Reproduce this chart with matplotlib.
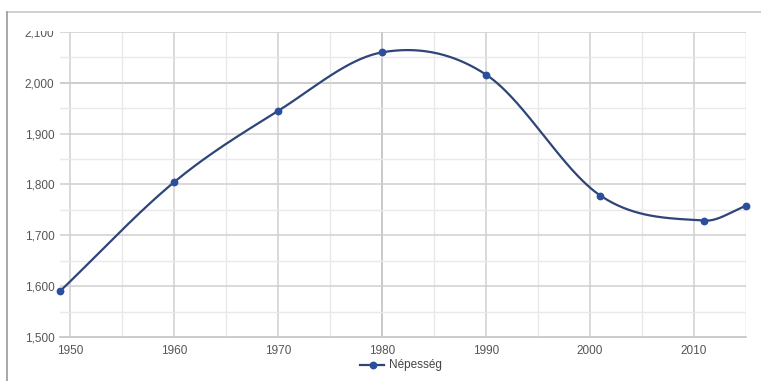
import numpy as np
import matplotlib
matplotlib.use("Agg")
import matplotlib.pyplot as plt
from matplotlib.lines import Line2D
from matplotlib.patches import Rectangle

years = [1949, 1960, 1970, 1980, 1990, 2001, 2011, 2015]
population = [1590, 1805, 1945, 2060, 2016, 1778, 1729, 1758]
x_ticks = [1950, 1960, 1970, 1980, 1990, 2000, 2010]
y_ticks = [1500, 1600, 1700, 1800, 1900, 2000, 2100]
series_name = "Népesség"

plt.rcParams['font.family'] = ['Liberation Sans', 'DejaVu Sans']

W, H = 761, 381
fig = plt.figure(figsize=(W / 100, H / 100), dpi=100)
ax = fig.add_axes([60 / W, 1 - 337 / H, (746 - 60) / W, (337 - 32) / H])

# smooth curve (cubic Hermite, Catmull-Rom tangents) through the data points
x = np.array(years, float)
y = np.array(population, float)
n = len(x)
m = np.zeros(n)
for i in range(n):
    if i == 0:
        m[i] = (y[1] - y[0]) / (x[1] - x[0])
    elif i == n - 1:
        m[i] = (y[-1] - y[-2]) / (x[-1] - x[-2])
    else:
        m[i] = (y[i + 1] - y[i - 1]) / (x[i + 1] - x[i - 1])
xs, ys = [], []
for i in range(n - 1):
    h = x[i + 1] - x[i]
    t = np.linspace(0, 1, 60)
    h00 = 2 * t**3 - 3 * t**2 + 1
    h10 = t**3 - 2 * t**2 + t
    h01 = -2 * t**3 + 3 * t**2
    h11 = t**3 - t**2
    xs.append(x[i] + t * h)
    ys.append(h00 * y[i] + h10 * h * m[i] + h01 * y[i + 1] + h11 * h * m[i + 1])
xs = np.concatenate(xs)
ys = np.concatenate(ys)

line_color = '#2e4577'
marker_color = '#2a4f9c'
ax.plot(xs, ys, color=line_color, lw=1.6, zorder=3, clip_on=False)
ax.plot(x, y, 'o', color=marker_color, ms=4.6, zorder=4, clip_on=False)

ax.set_xlim(1949, 2015)
ax.set_ylim(1500, 2100)
ax.set_xticks(x_ticks)
ax.set_yticks(y_ticks)
ax.set_yticklabels([f"{v:,}" for v in y_ticks])
ax.set_xticks(np.arange(1950, 2016, 5), minor=True)
ax.set_yticks(np.arange(1500, 2101, 50), minor=True)
ax.grid(True, which='major', color='#cfcfcf', lw=1.1, zorder=0)
ax.grid(True, which='minor', color='#e9e9e9', lw=1.0, zorder=0)
ax.axvline(1980, color='#a8a8a8', lw=1.1, zorder=1)
ax.axhline(2000, color='#bdbdbd', lw=1.1, zorder=1)
for s in ax.spines.values():
    s.set_visible(False)
ax.axhline(1500, color='#bbbbbb', lw=1.1, zorder=1, clip_on=False)
ax.axvline(2015, color='#dddddd', lw=1.0, zorder=0)
ax.tick_params(which='both', length=0, colors='#555555', labelsize=8.5)
ax.tick_params(axis='x', pad=6)
ax.tick_params(axis='y', pad=4)

# top part of the screenshot cuts off the top of the highest y label
fig.add_artist(Rectangle((12 / W, 1 - 30.5 / H), 46 / W, 16 / H,
                         facecolor='white', edgecolor='none', zorder=10))

# frame lines of the screenshot
fig.add_artist(Line2D([7 / W, 1], [1 - 12 / H, 1 - 12 / H], color='#c8c8c8', lw=1.2, zorder=11))
fig.add_artist(Line2D([7 / W, 7 / W], [0, 1 - 12 / H], color='#9a9a9a', lw=1.2, zorder=11))

# legend
ly = 1 - 365 / H
fig.add_artist(Line2D([360 / W, 384 / W], [ly, ly], color=line_color, lw=1.6))
fig.add_artist(Line2D([373 / W], [ly], marker='o', color=marker_color, ms=4.6))
fig.text(389 / W, ly, series_name, fontsize=8.5, color='#444444', va='center', ha='left')

fig.savefig('out.png', dpi=100, facecolor='white')
